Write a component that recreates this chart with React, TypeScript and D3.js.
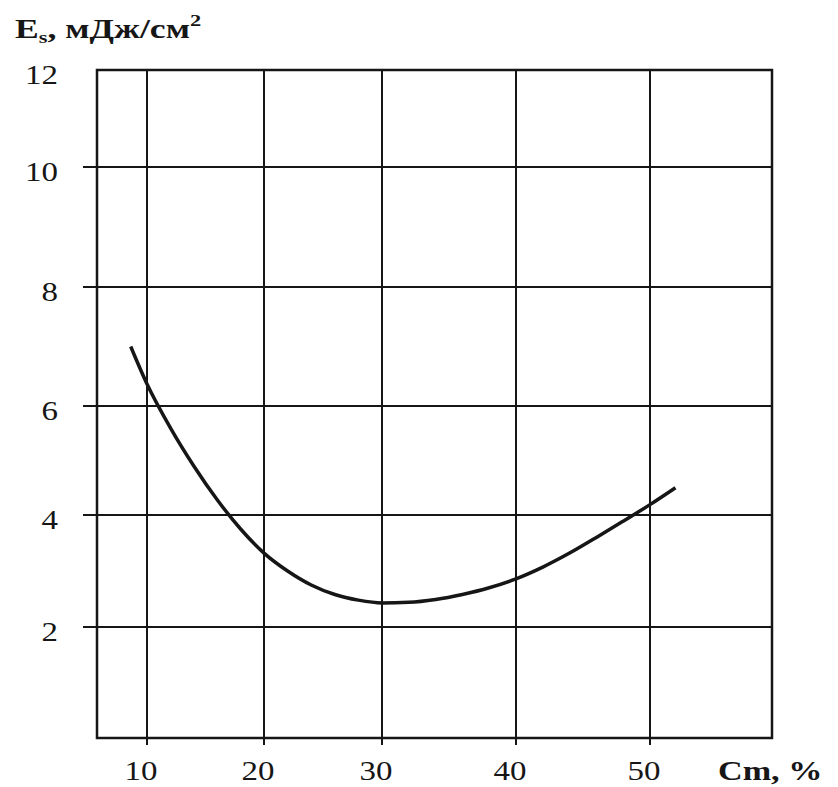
import React, { useEffect, useRef } from "react";
import * as d3 from "d3";

// Curve: Es (mJ/cm2) against Cm (%)
const cmValues = [8.6, 10, 12, 14, 16, 18, 20, 22, 24, 26, 28, 30, 32, 34, 36, 38, 40, 42, 44, 46, 48, 50, 51.9];
const esValues = [7.0, 6.37, 5.6, 4.9, 4.28, 3.75, 3.32, 3.0, 2.75, 2.58, 2.48, 2.43, 2.44, 2.49, 2.58, 2.7, 2.86, 3.07, 3.32, 3.6, 3.89, 4.19, 4.5];

const xTicks = [10, 20, 30, 40, 50];
const yTicks = [2, 4, 6, 8, 10, 12];

const xTitle = "Cm, %";
const yTitleMain = "E";
const yTitleSub = "s";
const yTitleRest = ", мДж/см";
const yTitleSup = "2";

const App = () => {
  const ref = useRef<SVGSVGElement>(null);

  useEffect(() => {
    const svg = d3.select(ref.current);
    svg.selectAll("*").remove();

    const ink = "#161616";
    const serif = "'Liberation Serif', 'Times New Roman', serif";

    // the scan's grid is a little uneven, so the scales follow each gridline
    const x = d3.scaleLinear()
      .domain([5.7, 10, 20, 30, 40, 50, 59.1])
      .range([97, 147, 264, 382, 516, 650, 772]);

    const y = d3.scaleLinear()
      .domain([0, 2, 4, 6, 8, 10, 12])
      .range([738, 627, 515, 406, 287, 167, 70]);

    const [x0, x1] = [x.domain()[0], x.domain()[x.domain().length - 1]];
    const [y0, y1] = [0, 12];

    svg.append("rect")
      .attr("width", 838)
      .attr("height", 787)
      .attr("fill", "#fff");

    // horizontal gridlines, poking out past the left frame
    svg.append("g")
      .selectAll("line")
      .data(yTicks.filter(d => d < 12))
      .enter()
      .append("line")
      .attr("x1", x(x0) - 14)
      .attr("x2", x(x1))
      .attr("y1", d => y(d))
      .attr("y2", d => y(d))
      .attr("stroke", ink)
      .attr("stroke-width", 2);

    // vertical gridlines, poking out below the frame
    svg.append("g")
      .selectAll("line")
      .data(xTicks)
      .enter()
      .append("line")
      .attr("x1", d => x(d))
      .attr("x2", d => x(d))
      .attr("y1", y(y1))
      .attr("y2", y(y0) + 7)
      .attr("stroke", ink)
      .attr("stroke-width", 2);

    // frame
    svg.append("rect")
      .attr("x", x(x0))
      .attr("y", y(y1))
      .attr("width", x(x1) - x(x0))
      .attr("height", y(y0) - y(y1))
      .attr("fill", "none")
      .attr("stroke", ink)
      .attr("stroke-width", 2.5);

    // the curve
    const line = d3.line<number>()
      .x(d => x(d))
      .y((d, i) => y(esValues[i]))
      .curve(d3.curveMonotoneX);

    svg.append("path")
      .datum(cmValues)
      .attr("d", line)
      .attr("fill", "none")
      .attr("stroke", ink)
      .attr("stroke-width", 3.5)
      .attr("stroke-linejoin", "round");

    // tick labels (the scan is stretched sideways, hence scaleX)
    svg.append("g")
      .selectAll("text")
      .data(xTicks)
      .enter()
      .append("text")
      .attr("transform", d => `translate(${x(d) - 6},780) scale(1.22,1)`)
      .attr("text-anchor", "middle")
      .style("font-family", serif)
      .style("font-size", "27px")
      .attr("fill", ink)
      .text(d => d);

    svg.append("g")
      .selectAll("text")
      .data(yTicks)
      .enter()
      .append("text")
      .attr("transform", d => `translate(58,${y(d) + 14}) scale(1.22,1)`)
      .attr("text-anchor", "end")
      .style("font-family", serif)
      .style("font-size", "27px")
      .attr("fill", ink)
      .text(d => d);

    // axis titles
    svg.append("text")
      .attr("transform", "translate(718,780) scale(1.22,1)")
      .style("font-family", serif)
      .style("font-size", "28px")
      .style("font-weight", "bold")
      .attr("fill", ink)
      .text(xTitle);

    const yt = svg.append("text")
      .attr("transform", "translate(15,38) scale(1.32,1)")
      .style("font-family", serif)
      .style("font-size", "27px")
      .style("font-weight", "bold")
      .attr("fill", ink);
    yt.append("tspan").text(yTitleMain);
    yt.append("tspan").attr("dy", 5).style("font-size", "17px").text(yTitleSub);
    yt.append("tspan").attr("dy", -5).text(yTitleRest);
    yt.append("tspan").attr("dy", -12).style("font-size", "17px").text(yTitleSup);
  }, []);

  return (
    <svg
      ref={ref}
      width={838}
      height={787}
      style={{ position: "absolute", left: 0, top: 0, display: "block" }}
    />
  );
};

export default App;
